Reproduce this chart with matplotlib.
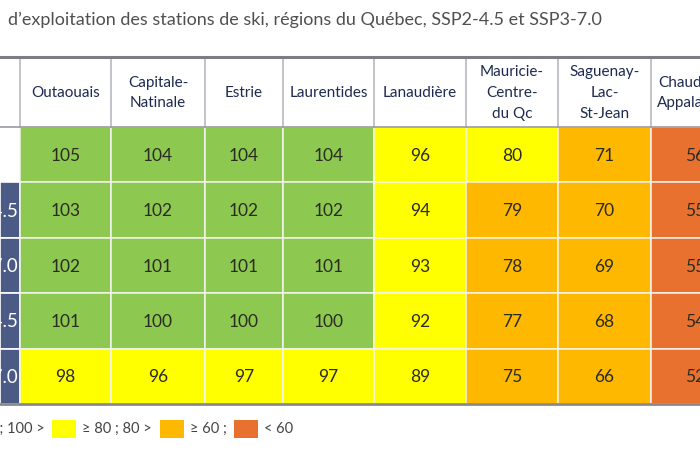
import matplotlib
matplotlib.use("Agg")
import matplotlib.pyplot as plt
from matplotlib.patches import Rectangle

plt.rcParams['font.family'] = ['Lato', 'DejaVu Sans']

# ---- data ----
title = "d\u2019exploitation des stations de ski, régions du Québec, SSP2-4.5 et SSP3-7.0"
regions = ["Outaouais", "Capitale-\nNatinale", "Estrie", "Laurentides", "Lanaudière",
           "Mauricie-\nCentre-\ndu Qc", "Saguenay-\nLac-\nSt-Jean", "Chaudière-\nAppalaches"]
row_labels = ["", "SSP2-4.5", "SSP3-7.0", "SSP2-4.5", "SSP3-7.0"]
outaouais = [105, 103, 102, 101, 98]
capitale = [104, 102, 101, 100, 96]
estrie = [104, 102, 101, 100, 97]
laurentides = [104, 102, 101, 100, 97]
lanaudiere = [96, 94, 93, 92, 89]
mauricie = [80, 79, 78, 77, 75]
saguenay = [71, 70, 69, 68, 66]
chaudiere = [56, 55, 55, 54, 52]
columns = [outaouais, capitale, estrie, laurentides, lanaudiere, mauricie, saguenay, chaudiere]
thresholds = [100, 80, 60]
legend_labels = ["\u2265 100 ; 100 >", "\u2265 80 ; 80 >", "\u2265 60 ;", "< 60"]

# ---- style ----
GREEN, YELLOW, ORANGE, RED = "#8dc850", "#ffff00", "#ffb800", "#e9712f"
level_colors = [GREEN, YELLOW, ORANGE, RED]
STUB = "#4b5b86"
HEADER_TXT = "#1e2a50"
NUM_TXT = "#2b2b22"

def color_for(v):
    for t, c in zip(thresholds, level_colors):
        if v >= t:
            return c
    return level_colors[-1]

col_edges = [0, 20, 111, 205, 283, 374, 466, 558, 651, 740]
header_top, header_bot = 57, 127
row_h = 55.4

fig = plt.figure(figsize=(7, 4.5), dpi=100)
ax = fig.add_axes([0, 0, 1, 1])
ax.set_xlim(0, 700)
ax.set_ylim(450, 0)
ax.axis("off")

fig.text(8 / 700, 1 - 20 / 450, title, fontsize=13, color="#505050", va="center", ha="left")

# header cells
for j, name in enumerate(regions):
    x0, x1 = col_edges[j + 1], col_edges[j + 2]
    ax.text((x0 + x1) / 2, (header_top + header_bot) / 2 + 1, name, ha="center", va="center",
            fontsize=11, color=HEADER_TXT, linespacing=1.6)
    ax.plot([x0, x0], [header_top, header_bot], color="#b8b8c0", lw=1.2)

# body
n_rows = len(row_labels)
for i in range(n_rows):
    y0 = header_bot + i * row_h
    stub_color = "white" if i == 0 else STUB
    ax.add_patch(Rectangle((col_edges[0], y0), col_edges[1] - col_edges[0], row_h,
                           facecolor=stub_color, edgecolor="white", lw=1.2))
    ax.text(col_edges[1] - 2, y0 + row_h / 2 + 1, row_labels[i], ha="right", va="center",
            fontsize=13.5, color="white")
    for j, vals in enumerate(columns):
        x0, x1 = col_edges[j + 1], col_edges[j + 2]
        v = vals[i]
        ax.add_patch(Rectangle((x0, y0), x1 - x0, row_h, facecolor=color_for(v),
                               edgecolor="#f4f4ee", lw=1.1))
        ax.text((x0 + x1) / 2, y0 + row_h / 2 + 1, str(v), ha="center", va="center",
                fontsize=12.5, color=NUM_TXT)

body_bot = header_bot + n_rows * row_h
ax.plot([0, 700], [header_top, header_top], color="#7d7d85", lw=2.2)
ax.plot([0, 700], [header_bot, header_bot], color="#9a9aa2", lw=1.2)
ax.plot([0, 700], [body_bot, body_bot], color="#8a8a8a", lw=2)

# legend
leg_y = 429
sq = 24
leg_items_x = [-72, 52, 160, 234]   # square left edges
for k, (lab, c) in enumerate(zip(legend_labels, level_colors)):
    xs = leg_items_x[k]
    ax.add_patch(Rectangle((xs, leg_y - 9), sq, 18, facecolor=c, edgecolor="none"))
    ax.text(xs + sq + 6, leg_y, lab, ha="left", va="center", fontsize=10.5, color="#444444")

fig.savefig("out.png", dpi=100, facecolor="white")
